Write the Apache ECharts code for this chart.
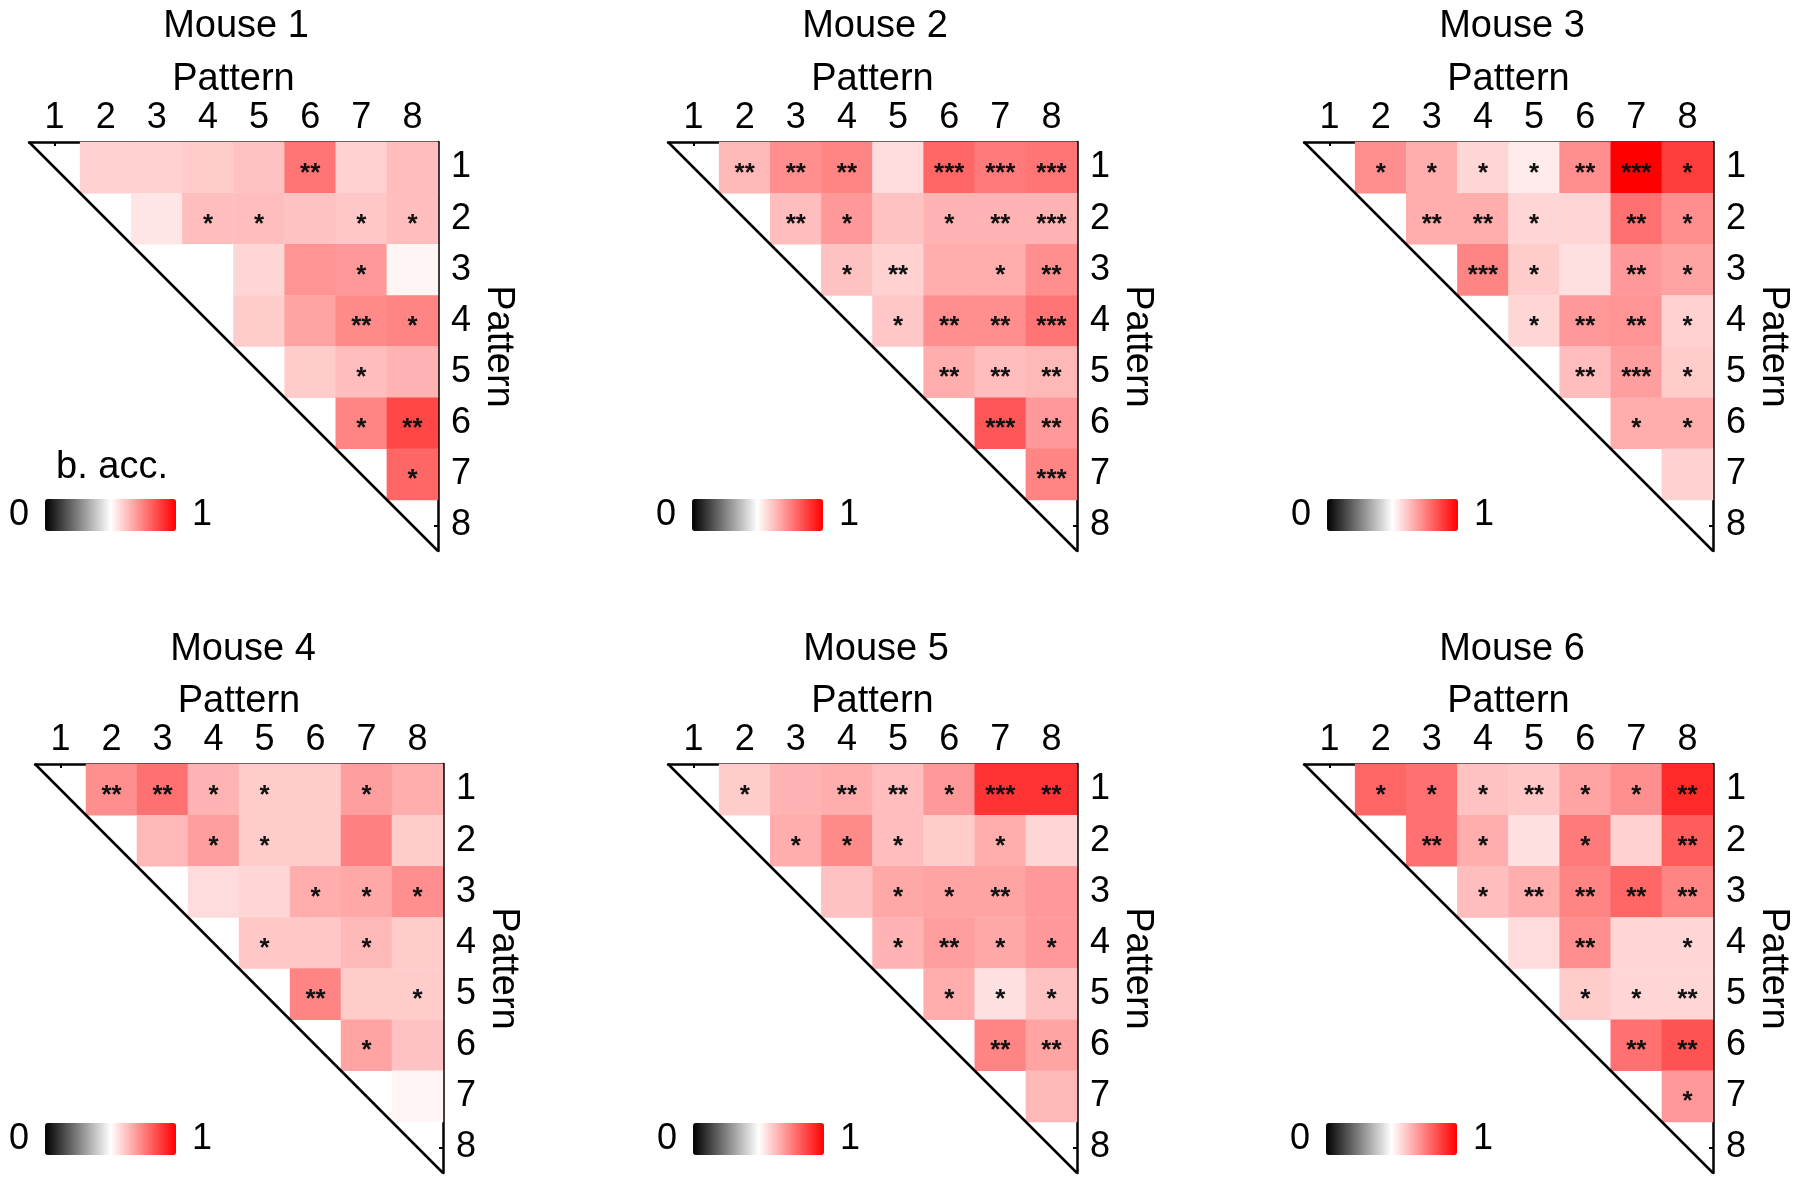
<!DOCTYPE html>
<html>
<head>
<meta charset="utf-8">
<script src="https://cdn.jsdelivr.net/npm/echarts@6/dist/echarts.min.js"></script>
<style>
html,body{margin:0;padding:0;background:#fff;}
#chart{width:1800px;height:1185px;}
</style>
</head>
<body>
<div id="chart"></div>
<script>
// ---------- DATA ----------
const patterns = ['1','2','3','4','5','6','7','8'];
const mouseNames = ['Mouse 1','Mouse 2','Mouse 3','Mouse 4','Mouse 5','Mouse 6'];
const axisTitle = 'Pattern';
const colorbarTitle = 'b. acc.';
const colorbarTicks = ['0','1'];

// balanced accuracy, upper triangle: row r lists columns r+1..8
const mouse1Acc = [
  [0.59,0.59,0.60,0.62,0.77,0.59,0.63],
  [0.55,0.63,0.63,0.62,0.61,0.63],
  [0.50,0.58,0.71,0.70,0.52],
  [0.60,0.68,0.73,0.74],
  [0.60,0.63,0.65],
  [0.74,0.86],
  [0.80]
];
const mouse1Stars = [
  ['','','','','**','',''],
  ['','*','*','','*','*'],
  ['','','','*',''],
  ['','','**','*'],
  ['','*',''],
  ['*','**'],
  ['*']
];
const mouse2Acc = [
  [0.64,0.72,0.74,0.57,0.80,0.76,0.77],
  [0.63,0.70,0.62,0.65,0.65,0.65],
  [0.62,0.59,0.66,0.66,0.72],
  [0.61,0.72,0.72,0.77],
  [0.66,0.63,0.64],
  [0.83,0.70],
  [0.74]
];
const mouse2Stars = [
  ['**','**','**','','***','***','***'],
  ['**','*','','*','**','***'],
  ['*','**','','*','**'],
  ['*','**','**','***'],
  ['**','**','**'],
  ['***','**'],
  ['***']
];
const mouse3Acc = [
  [0.72,0.66,0.58,0.54,0.72,1.00,0.88],
  [0.66,0.66,0.58,0.58,0.78,0.72],
  [0.74,0.60,0.56,0.70,0.68],
  [0.58,0.70,0.71,0.59],
  [0.63,0.69,0.60],
  [0.66,0.66],
  [0.59]
];
const mouse3Stars = [
  ['*','*','*','*','**','***','*'],
  ['**','**','*','','**','*'],
  ['***','*','','**','*'],
  ['*','**','**','*'],
  ['**','***','*'],
  ['*','*'],
  ['']
];
const mouse4Acc = [
  [0.72,0.78,0.65,0.60,0.60,0.69,0.66],
  [0.64,0.69,0.60,0.60,0.75,0.60],
  [0.57,0.58,0.66,0.67,0.72],
  [0.61,0.61,0.64,0.60],
  [0.74,0.60,0.60],
  [0.68,0.62],
  [0.52]
];
const mouse4Stars = [
  ['**','**','*','*','','*',''],
  ['','*','*','','',''],
  ['','','*','*','*'],
  ['*','','*',''],
  ['**','','*'],
  ['*',''],
  ['']
];
const mouse5Acc = [
  [0.60,0.65,0.66,0.63,0.70,0.90,0.90],
  [0.66,0.73,0.63,0.60,0.66,0.58],
  [0.62,0.67,0.68,0.68,0.70],
  [0.65,0.69,0.67,0.70],
  [0.66,0.56,0.62],
  [0.74,0.68],
  [0.64]
];
const mouse5Stars = [
  ['*','','**','**','*','***','**'],
  ['*','*','*','','*',''],
  ['','*','*','**',''],
  ['*','**','*','*'],
  ['*','*','*'],
  ['**','**'],
  ['']
];
const mouse6Acc = [
  [0.80,0.78,0.62,0.61,0.68,0.72,0.92],
  [0.78,0.66,0.56,0.76,0.59,0.82],
  [0.63,0.66,0.74,0.80,0.74],
  [0.57,0.72,0.58,0.58],
  [0.60,0.58,0.58],
  [0.78,0.84],
  [0.70]
];
const mouse6Stars = [
  ['*','*','*','**','*','*','**'],
  ['**','*','','*','','**'],
  ['*','**','**','**','**'],
  ['','**','','*'],
  ['*','*','**'],
  ['**','**'],
  ['*']
];

const accList = [mouse1Acc, mouse2Acc, mouse3Acc, mouse4Acc, mouse5Acc, mouse6Acc];
const starList = [mouse1Stars, mouse2Stars, mouse3Stars, mouse4Stars, mouse5Stars, mouse6Stars];

// ---------- LAYOUT ----------
const FONT = '"Liberation Sans", Arial, Helvetica, sans-serif';
const panels = [
  {left:29,   top:142, width:409, height:409, titleX:231,  titleY:3,   barX:45,   barY:497},
  {left:668,  top:142, width:409, height:409, titleX:870,  titleY:3,   barX:692,  barY:497},
  {left:1304, top:142, width:409, height:409, titleX:1507, titleY:3,   barX:1327, barY:497},
  {left:35,   top:764, width:408, height:409, titleX:238,  titleY:626, barX:45,   barY:1121},
  {left:668,  top:764, width:409, height:409, titleX:871,  titleY:626, barX:693,  barY:1121},
  {left:1304, top:764, width:409, height:409, titleX:1507, titleY:626, barX:1326, barY:1121}
];

const grids = [], xAxes = [], yAxes = [], series = [], visualMaps = [], titles = [];

panels.forEach((p, i) => {
  grids.push({left:p.left, top:p.top, width:p.width, height:p.height, containLabel:false});
  titles.push({
    text: mouseNames[i], left: p.titleX, top: p.titleY, textAlign: 'center',
    textStyle: {fontSize: 38, fontWeight: 'normal', color: '#000', fontFamily: FONT}
  });
  const axisCommon = {
    gridIndex: i, type: 'category', data: patterns,
    axisLine: {show: true, lineStyle: {color: '#000', width: 2.5}},
    axisTick: {show: true, inside: true, alignWithLabel: true, length: 4, lineStyle: {color: '#000', width: 2}},
    splitLine: {show: false},
    name: axisTitle, nameLocation: 'middle',
    nameTextStyle: {fontSize: 38, color: '#000', fontFamily: FONT}
  };
  xAxes.push(Object.assign({}, axisCommon, {
    position: 'top', nameGap: 43,
    axisLabel: {fontSize: 36, color: '#000', margin: 6, fontFamily: FONT}
  }));
  yAxes.push(Object.assign({}, axisCommon, {
    position: 'right', inverse: true, nameRotate: -90, nameGap: 41,
    axisLabel: {fontSize: 36, color: '#000', margin: 13, fontFamily: FONT}
  }));

  const data = [];
  accList[i].forEach((row, r) => {
    row.forEach((v, k) => {
      const c = r + 1 + k;
      data.push([c, r, v, starList[i][r][k]]);
    });
  });
  series.push({
    type: 'heatmap', xAxisIndex: i, yAxisIndex: i, data: data,
    label: {show: true, formatter: pr => pr.data[3], fontSize: 26, fontWeight: 'bold', color: '#111', offset: [0, 6], fontFamily: FONT},
    emphasis: {disabled: true}, silent: true
  });

  visualMaps.push({
    type: 'continuous', seriesIndex: i, dimension: 2, min: 0, max: 1,
    orient: 'horizontal', calculable: false, realtime: false,
    left: p.barX - 16 - 20, top: p.barY, padding: 0,
    itemWidth: 32, itemHeight: 131, textGap: 16,
    text: [colorbarTicks[1], colorbarTicks[0]],
    textStyle: {fontSize: 36, color: '#000', fontFamily: FONT},
    inRange: {color: ['#000000', '#ffffff', '#ff0000']},
    hoverLink: false
  });
});

// diagonal edges of the triangles, computed via axis scales
panels.forEach((p, i) => {
  series.push({
    type: 'custom', xAxisIndex: i, yAxisIndex: i, silent: true, z: 5,
    data: [[0, 0]],
    renderItem: (params, api) => {
      const a = api.coord([0, 0]);
      const b = api.coord([patterns.length - 1, patterns.length - 1]);
      const s = api.size([1, 1]);
      return {
        type: 'line',
        shape: {x1: a[0] - s[0] / 2, y1: a[1] - s[1] / 2, x2: b[0] + s[0] / 2, y2: b[1] + s[1] / 2},
        style: {stroke: '#000', lineWidth: 2.5}
      };
    }
  });
});

const chart = echarts.init(document.getElementById('chart'), null, {renderer: 'canvas'});
chart.setOption({
  animation: false,
  backgroundColor: '#ffffff',
  title: titles,
  grid: grids,
  xAxis: xAxes,
  yAxis: yAxes,
  visualMap: visualMaps,
  series: series,
  graphic: [{
    type: 'text', x: 112, y: 468,
    style: {text: colorbarTitle, align: 'center', verticalAlign: 'middle', fill: '#000', font: '38px ' + FONT}
  }]
});
</script>
</body>
</html>
